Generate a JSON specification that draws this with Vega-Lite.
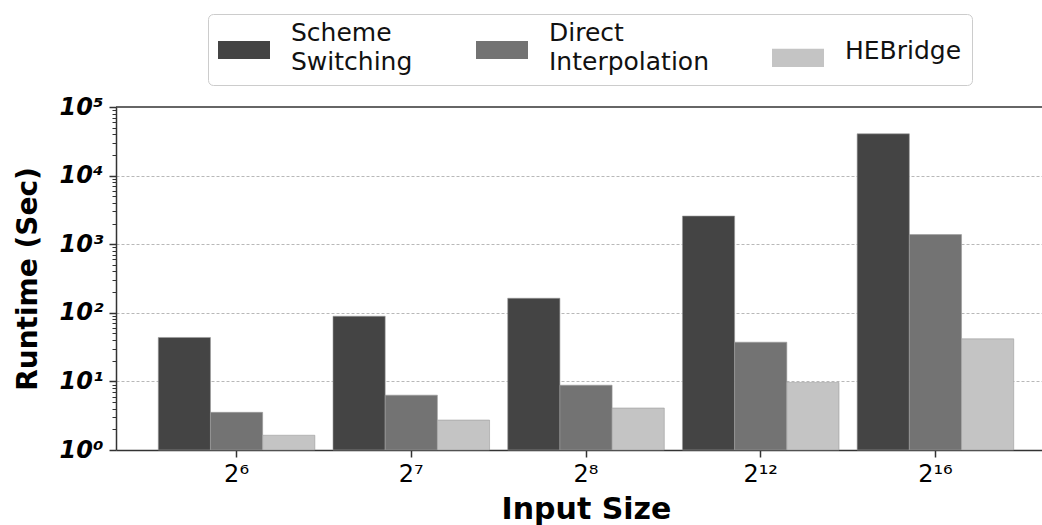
{
  "$schema": "https://vega.github.io/schema/vega-lite/v6.json",
  "autosize": {"type": "none"},
  "padding": {"left": 116, "top": 107, "right": 0, "bottom": 75},
  "width": 926,
  "height": 343,
  "background": "white",
  "config": {
    "view": {"stroke": null},
    "font": "DejaVu Sans"
  },
  "layer": [
    {
      "data": {
        "values": [
          {"input": "2⁶", "method": "Scheme Switching", "runtime": 43.7},
          {"input": "2⁶", "method": "Direct Interpolation", "runtime": 3.54},
          {"input": "2⁶", "method": "HEBridge", "runtime": 1.64},
          {"input": "2⁷", "method": "Scheme Switching", "runtime": 89.2},
          {"input": "2⁷", "method": "Direct Interpolation", "runtime": 6.3},
          {"input": "2⁷", "method": "HEBridge", "runtime": 2.73},
          {"input": "2⁸", "method": "Scheme Switching", "runtime": 163},
          {"input": "2⁸", "method": "Direct Interpolation", "runtime": 8.8},
          {"input": "2⁸", "method": "HEBridge", "runtime": 4.09},
          {"input": "2¹²", "method": "Scheme Switching", "runtime": 2573},
          {"input": "2¹²", "method": "Direct Interpolation", "runtime": 37.3},
          {"input": "2¹²", "method": "HEBridge", "runtime": 9.67},
          {"input": "2¹⁶", "method": "Scheme Switching", "runtime": 40700},
          {"input": "2¹⁶", "method": "Direct Interpolation", "runtime": 1380},
          {"input": "2¹⁶", "method": "HEBridge", "runtime": 41.7}
        ]
      },
      "mark": {"type": "bar", "stroke": "#9a9a9a", "strokeWidth": 0.6},
      "encoding": {
        "x": {
          "field": "input",
          "type": "nominal",
          "sort": null,
          "scale": {"range": [0, 940], "paddingInner": 0.104, "paddingOuter": 0.242},
          "axis": {
            "title": "Input Size",
            "titleFont": "DejaVu Sans",
            "titleFontSize": 30,
            "titleFontWeight": "bold",
            "titleColor": "#000",
            "titlePadding": 8,
            "labelAngle": 0,
            "labelFont": "DejaVu Sans",
            "labelFontSize": 24,
            "labelColor": "#000",
            "labelPadding": 5,
            "tickSize": 7,
            "tickWidth": 1.5,
            "tickColor": "#333",
            "domainColor": "#333",
            "domainWidth": 1.5,
            "grid": false
          }
        },
        "xOffset": {
          "field": "method",
          "type": "nominal",
          "sort": ["Scheme Switching", "Direct Interpolation", "HEBridge"],
          "scale": {"paddingInner": 0, "paddingOuter": 0}
        },
        "y": {
          "field": "runtime",
          "type": "quantitative",
          "scale": {"type": "log", "domain": [1, 100000], "nice": false},
          "axis": {
            "title": "Runtime (Sec)",
            "titleFont": "DejaVu Sans",
            "titleFontSize": 28,
            "titleFontWeight": "bold",
            "titleColor": "#000",
            "titlePadding": 17,
            "values": [1, 2, 3, 4, 5, 6, 7, 8, 9, 10, 20, 30, 40, 50, 60, 70, 80, 90, 100, 200, 300, 400, 500, 600, 700, 800, 900, 1000, 2000, 3000, 4000, 5000, 6000, 7000, 8000, 9000, 10000, 20000, 30000, 40000, 50000, 60000, 70000, 80000, 90000, 100000],
            "labelExpr": "datum.value == 1 ? '10⁰' : datum.value == 10 ? '10¹' : datum.value == 100 ? '10²' : datum.value == 1000 ? '10³' : datum.value == 10000 ? '10⁴' : datum.value == 100000 ? '10⁵' : ''",
            "labelOverlap": false,
            "labelFont": "DejaVu Sans",
            "labelFontSize": 24,
            "labelFontWeight": "bold",
            "labelFontStyle": "italic",
            "labelColor": "#000",
            "labelPadding": 6,
            "tickSize": {"condition": {"test": "indexof([1,10,100,1000,10000,100000], datum.value) >= 0", "value": 7}, "value": 4},
            "tickWidth": {"condition": {"test": "indexof([1,10,100,1000,10000,100000], datum.value) >= 0", "value": 1.5}, "value": 1},
            "tickColor": "#333",
            "domainColor": "#333",
            "domainWidth": 1.5,
            "grid": true,
            "gridColor": "#b8b8b8",
            "gridWidth": 1,
            "gridDash": [3, 2],
            "gridOpacity": {"condition": {"test": "indexof([10,100,1000,10000], datum.value) >= 0", "value": 1}, "value": 0}
          }
        },
        "y2": {"datum": 1},
        "color": {
          "field": "method",
          "type": "nominal",
          "scale": {
            "domain": ["Scheme Switching", "Direct Interpolation", "HEBridge"],
            "range": ["#444444", "#737373", "#c4c4c4"]
          },
          "legend": {
            "title": null,
            "orient": "none",
            "legendX": 92,
            "legendY": -93,
            "direction": "horizontal",
            "columns": 3,
            "symbolType": "M-1,-0.35H1V0.35H-1Z",
            "symbolSize": 2704,
            "symbolStrokeWidth": 0,
            "symbolOpacity": 1,
            "labelFont": "DejaVu Sans",
            "labelFontSize": 25,
            "labelColor": "#111",
            "labelOffset": 21,
            "labelLimit": 400,
            "labelExpr": "datum.label == 'Scheme Switching' ? ['Scheme', 'Switching'] : datum.label == 'Direct Interpolation' ? ['Direct', 'Interpolation'] : datum.label",
            "columnPadding": 63,
            "padding": 10,
            "strokeColor": "#cccccc",
            "fillColor": "white",
            "cornerRadius": 5,
            "encoding": {
              "labels": {
                "dy": {"condition": {"test": "datum.value == 'HEBridge'", "value": -7}, "value": -17},
                "lineHeight": {"value": 29}
              }
            }
          }
        }
      }
    },
    {
      "data": {"values": [{}]},
      "mark": {"type": "rule", "color": "#333", "strokeWidth": 1.5},
      "encoding": {"y": {"datum": 100000}}
    }
  ]
}
